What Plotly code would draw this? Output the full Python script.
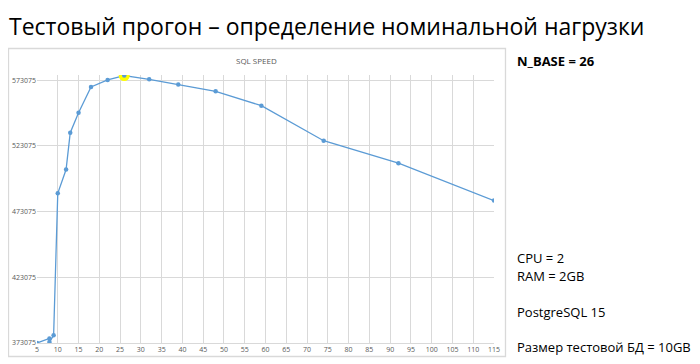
import plotly.graph_objects as go

# Data
load_n = [5, 8, 8, 9, 10, 12, 13, 15, 18, 22, 26, 32, 39, 48, 59, 74, 92, 115]
sql_speed = [373075, 376500, 373800, 379000, 487040, 505130, 533150, 548420,
             567960, 573300, 576660, 573840, 569790, 564680, 553760, 527050,
             509940, 481470]
peak_n = [26]
peak_speed = [576660]
y_ticks = [373075, 423075, 473075, 523075, 573075]
x_ticks = list(range(5, 120, 5))

# the page body has an 8px default margin; figure is drawn inside it
OFF = 8
W, H = 700 - OFF, 364 - OFF
# plot-area edges in screen pixels
L, R, T, B = 37, 494, 75, 343


def px(sx):
    return (sx - L) / (R - L)


def py(sy):
    return (B - sy) / (B - T)


blue = "#5B9BD5"
grid = "#D9D9D9"
tick_col = "#595959"

fig = go.Figure()
fig.add_trace(go.Scatter(
    x=load_n, y=sql_speed, mode="lines+markers",
    line=dict(color=blue, width=1.3),
    marker=dict(color=blue, size=4.5, symbol="circle"),
    showlegend=False, hoverinfo="x+y"))
fig.add_trace(go.Scatter(
    x=peak_n, y=peak_speed, mode="markers",
    marker=dict(color="#FFFF00", size=11, line=dict(width=0)),
    showlegend=False, hoverinfo="skip"))
fig.add_trace(go.Scatter(
    x=peak_n, y=peak_speed, mode="markers",
    marker=dict(color=blue, size=4.5),
    showlegend=False, hoverinfo="skip"))

fig.update_layout(
    width=W, height=H,
    margin=dict(l=L - OFF, r=700 - R, t=T - OFF, b=364 - B, pad=0,
                autoexpand=False),
    paper_bgcolor="white", plot_bgcolor="white",
    font=dict(family="Open Sans, sans-serif"),
    xaxis=dict(range=[5, 115], tickvals=x_ticks, showgrid=True, gridcolor=grid,
               gridwidth=1, zeroline=False, showline=True, linecolor=grid,
               ticks="", tickfont=dict(size=7, color=tick_col), ticklen=0,
               automargin=False, fixedrange=True),
    yaxis=dict(range=[373075, 577100], tickvals=y_ticks, tickformat="d",
               showgrid=True, gridcolor=grid, gridwidth=1, zeroline=False,
               showline=False, ticks="", tickfont=dict(size=7, color=tick_col),
               automargin=False, fixedrange=True),
    shapes=[
        dict(type="rect", xref="paper", yref="paper",
             x0=px(8.5), x1=px(505.5), y0=py(356.5), y1=py(48.5),
             line=dict(color=grid, width=1.3), layer="below"),
    ],
    annotations=[
        dict(text="Тестовый прогон – определение номинальной нагрузки",
             xref="paper", yref="paper", x=px(8), y=py(8.5), xanchor="left",
             yanchor="top", showarrow=False, borderpad=0,
             font=dict(family="Open Sans, sans-serif", size=23, color="black")),
        dict(text="SQL SPEED", xref="paper", yref="paper", x=px(256), y=py(61),
             xanchor="center", yanchor="middle", showarrow=False,
             font=dict(size=8, color=tick_col)),
        dict(text="<b>N_BASE = 26</b>", xref="paper", yref="paper", x=px(515),
             y=py(61), xanchor="left", yanchor="middle", showarrow=False,
             font=dict(size=13, color="black")),
        dict(text="CPU = 2", xref="paper", yref="paper", x=px(515), y=py(258),
             xanchor="left", yanchor="middle", showarrow=False,
             font=dict(size=13, color="black")),
        dict(text="RAM = 2GB", xref="paper", yref="paper", x=px(515), y=py(276),
             xanchor="left", yanchor="middle", showarrow=False,
             font=dict(size=13, color="black")),
        dict(text="PostgreSQL 15", xref="paper", yref="paper", x=px(515),
             y=py(312), xanchor="left", yanchor="middle", showarrow=False,
             font=dict(size=13, color="black")),
        dict(text="Размер тестовой БД = 10GB", xref="paper", yref="paper",
             x=px(515), y=py(347), xanchor="left", yanchor="middle",
             showarrow=False, font=dict(size=13, color="black")),
    ],
)

fig.write_html("out.html")
